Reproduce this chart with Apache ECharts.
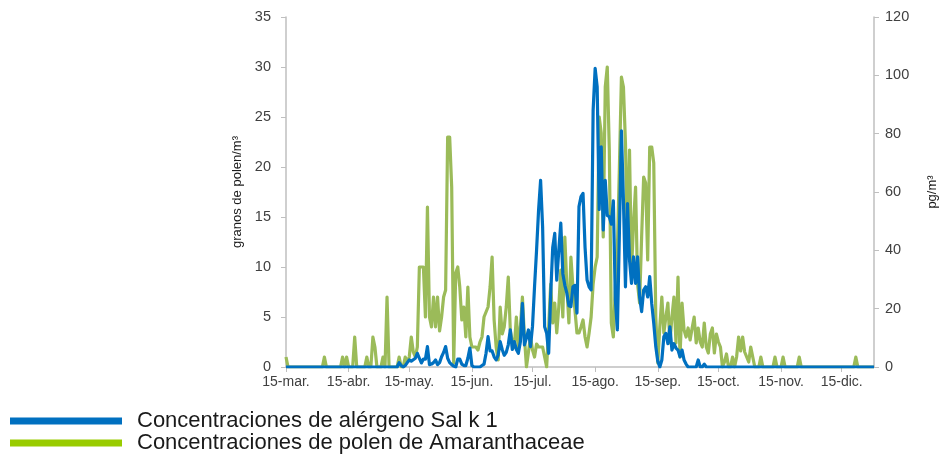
<!DOCTYPE html>
<html>
<head>
<meta charset="utf-8">
<title>Sal k 1 / Amaranthaceae</title>
<script src="https://cdn.jsdelivr.net/npm/echarts@6/dist/echarts.min.js"></script>
<style>
    html,body{margin:0;padding:0;background:#fff;}
    #chart-div{width:941px;height:454px;}
</style>
</head>
<body>
<div id="chart-div"></div>
<script>
// dias desde el 15-mar. hasta el 31-dic.
var months=['mar.','abr.','may.','jun.','jul.','ago.','sep.','oct.','nov.','dic.'];
var month_days=[31,30,31,30,31,31,30,31,30,31];
var start_day=15;

// granos de polen/m3 (eje izquierdo)
var polen=[
    1,0,0,0,0,0,0,0,0,0,
    0,0,0,0,0,0,0,0,0,1,
    0,0,0,0,0,0,0,0,1,0,
    1,0,0,0,3,0,0,0,0,0,
    1,0,0,3,2,0,0,0,1,0,
    7,0,0,0,0,0,1,0,0,1,
    0.5,1,3,1.5,1,2,10,10,10,5,
    16,5,4,7,4,7,3.6,5,7,7.7,
    23,23,18,0.4,9.4,10,8,4.7,6,3,
    8,3,2,2,2,1.7,2.5,3,5,5.5,
    6,8,11,4.7,2,0.7,6,3.3,4,6,
    9,3.7,2.5,2,5,2,4,7,3,0,
    1.5,3,1.7,1,2.3,2,2,2,1,0,
    4,8.3,4.4,6.4,3.4,6,9.7,5,13,8,
    4.4,11,8,5.7,3.4,3.4,4,4.7,3,2,
    3.4,5,8.3,10,11,25,23.4,13,28,30,
    21.7,4.4,3,8,11.7,20,29,28,22.4,11.7,
    21.7,9.7,14.4,18,8.3,6.4,13,19,18.4,10.7,
    22,22,20.4,5,0.4,4,7,3.4,5,6.4,
    2.4,5,7,2.4,9,1,6.4,3.7,3,3.9,
    2.7,3.9,5,2.4,3.9,2.5,2,4.4,2,1.4,
    3.3,3.9,1.4,3.3,2.5,2,0,0.5,1.3,0,
    0,1,0,1,3,1.6,3,1.5,1,0.5,
    2,1,0,0,0,1,0,0,0,0,
    0,0,1,0,0,0,1,0,0,0,
    0,0,0,0,1,0,0,0,0,0,
    0,0,0,0,0,0,0,0,0,0,
    0,0,0,0,0,0,0,0,0,0,
    0,0,1,0,0,0,0,0,0,0,
    0,0
];

// pg/m3 (eje derecho)
var alergeno=[
    0,0,0,0,0,0,0,0,0,0,
    0,0,0,0,0,0,0,0,0,0,
    0,0,0,0,0,0,0,0,0,0,
    0,0,0,0,0,0,0,0,0,0,
    0,0,0,0,0,0,0,0,0,0,
    0,0,0,0,0,0,1.5,0.5,0,0.5,
    1.5,2.4,2,2.5,3,4.7,3,1.4,2.7,2.7,
    7,0.8,1,1.5,2.4,0.8,1.5,3.5,5,7,
    3,1.5,0.8,0.3,0,2.7,2.7,1,0.5,0.5,
    3,6.5,0.5,0,0,0,0,0.5,1,4.7,
    10.4,5.5,5.5,3.5,2.4,4.1,8.7,6,4,5,
    7.6,12.7,6,8.7,6,4.7,8.7,21.8,7.6,10,
    12.7,7,14,27.5,40,53.8,64,48,13.8,11.6,
    4.7,25,41,45.8,29.8,40,49.3,32,28,25.3,
    21,20.7,27.5,28,18.5,55,58.4,59.5,41,29.8,
    27.5,26.4,88,102.4,96,54,75.5,47,64,52,
    51.5,49,57,23,12.7,46,81,57,27.5,56,
    36.7,28.7,37.8,28.7,37.8,24,19,26.4,27.5,24,
    31,21.8,15,7,2,0,2.4,10.4,11.5,8,
    13.8,5.8,8,6.5,5.8,3.5,5.8,2.4,1,0,
    0,0,0,0,2.4,0,0,1,0,0,
    0,0,0,0,0,0,0,0,0,0,
    0,0,0,0,0,0,0,0,0,0,
    0,0,0,0,0,0,0,0,0,0,
    0,0,0,0,0,0,0,0,0,0,
    0,0,0,0,0,0,0,0,0,0,
    0,0,0,0,0,0,0,0,0,0,
    0,0,0,0,0,0,0,0,0,0,
    0,0,0,0,0,0,0,0,0,0,
    0,0
];

var names=['Concentraciones de alérgeno Sal k 1','Concentraciones de polen de Amaranthaceae'];
var left_ticks={min:0,max:35,interval:5};
var right_ticks={min:0,max:120,interval:20};

// categorias: un dia por punto, etiqueta "15-mes."
var days=[],labels=[];
for(var m=0;m<months.length;m++){
    for(var d=(m==0?start_day:1);d<=month_days[m];d++){
        days.push(d);
        labels.push(d+'-'+months[m]);
    }
}
function isMid(i){
    return days[i]==15;
}

var axis_color='#bfbfbf';
var text_color='#404040';
var font='"Liberation Sans", Arial, sans-serif';

var myChart=echarts.init(document.getElementById('chart-div'));
var option={
    animation:false,
    textStyle:{fontFamily:font},
    grid:{left:286,right:67,top:17,bottom:87,outerBoundsMode:'none',containLabel:false},
    legend:{
        orient:'vertical',
        left:10,
        top:410,
        padding:0,
        icon:'rect',
        itemWidth:112,
        itemHeight:7,
        itemGap:0,
        selectedMode:false,
        textStyle:{fontSize:22,color:'#1a1a1a',padding:[0,0,0,10],lineHeight:20},
        data:[
            {name:names[0],itemStyle:{color:'#0070c0'}},
            {name:names[1],itemStyle:{color:'#99cc00'}}
        ]
    },
    xAxis:{
        type:'category',
        data:labels,
        boundaryGap:false,
        axisLine:{lineStyle:{color:axis_color,width:1.5}},
        axisTick:{show:true,length:5,interval:function(i){return isMid(i);},lineStyle:{color:axis_color}},
        axisLabel:{
            interval:function(i){return isMid(i);},
            color:text_color,
            fontSize:14,
            margin:8
        },
        splitLine:{show:false}
    },
    yAxis:[
        {
            type:'value',
            min:left_ticks.min,
            max:left_ticks.max,
            interval:left_ticks.interval,
            name:'granos de polen/m³',
            nameLocation:'middle',
            nameRotate:90,
            nameGap:40,
            nameTextStyle:{color:'#1a1a1a',fontSize:13},
            axisLine:{show:true,lineStyle:{color:axis_color,width:1.5}},
            axisTick:{show:true,length:5,lineStyle:{color:axis_color}},
            axisLabel:{color:text_color,fontSize:14.5,margin:15},
            splitLine:{show:false}
        },
        {
            type:'value',
            min:right_ticks.min,
            max:right_ticks.max,
            interval:right_ticks.interval,
            name:'pg/m³',
            nameLocation:'middle',
            nameRotate:90,
            nameGap:52,
            nameTextStyle:{color:'#1a1a1a',fontSize:13},
            axisLine:{show:true,lineStyle:{color:axis_color,width:1.5}},
            axisTick:{show:true,length:5,lineStyle:{color:axis_color}},
            axisLabel:{color:text_color,fontSize:14.5,margin:11},
            splitLine:{show:false}
        }
    ],
    series:[
        {
            name:names[1],
            type:'line',
            yAxisIndex:0,
            data:polen,
            showSymbol:false,
            symbol:'none',
            lineStyle:{color:'#9bbb59',width:3.2,join:'round'},
            itemStyle:{color:'#9bbb59'},
            z:2
        },
        {
            name:names[0],
            type:'line',
            yAxisIndex:1,
            data:alergeno,
            showSymbol:false,
            symbol:'none',
            lineStyle:{color:'#0070c0',width:3.2,join:'round'},
            itemStyle:{color:'#0070c0'},
            z:3
        }
    ]
};
myChart.setOption(option);
</script>
</body>
</html>
